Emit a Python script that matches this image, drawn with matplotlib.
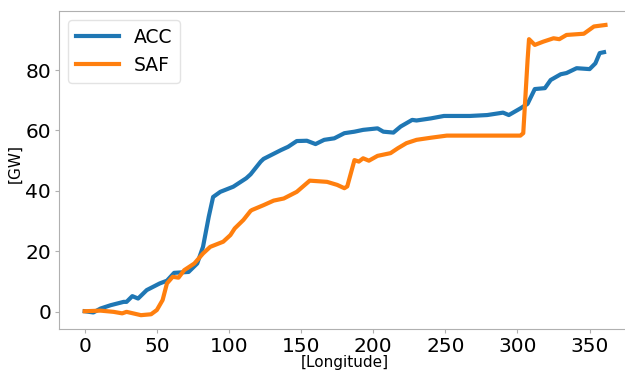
import matplotlib
matplotlib.use("Agg")
import matplotlib.pyplot as plt

# ACC series (longitude, GW)
acc_x = [0, 6, 11, 18, 27, 29, 33, 37, 43, 52, 57, 62, 72, 78, 82, 86, 89, 94,
         103, 112, 115, 122, 124, 136, 141, 147, 154, 160, 166, 173, 180, 187,
         193, 203, 207, 214, 219, 227, 230, 240, 249, 267, 279, 290, 294, 302,
         307, 312, 319, 323, 330, 334, 341, 350, 354, 357, 360]
acc_y = [0.2, -0.2, 1.1, 2.2, 3.3, 3.3, 5.2, 4.4, 7.2, 9.4, 10.3, 12.9, 13.2, 16.0,
         21.5, 31.5, 38.0, 39.7, 41.4, 44.2, 45.5, 49.7, 50.6, 53.5, 54.6, 56.5,
         56.6, 55.5, 56.9, 57.4, 59.1, 59.6, 60.2, 60.7, 59.6, 59.3, 61.3, 63.5,
         63.3, 64.0, 64.8, 64.8, 65.1, 65.9, 65.1, 67.3, 68.8, 73.7, 74.0, 76.7,
         78.6, 79.0, 80.6, 80.3, 82.2, 85.6, 85.9]

# SAF series (longitude, GW)
saf_x = [0, 11, 20, 26, 29, 39, 46, 50, 54, 57, 61, 65, 69, 76, 82, 87, 96, 101,
         104, 110, 115, 116, 124, 131, 138, 147, 156, 168, 175, 180, 182, 187,
         190, 193, 197, 203, 212, 217, 223, 230, 240, 251, 302, 304, 307, 308,
         312, 318, 325, 329, 334, 346, 353, 361]
saf_y = [0.2, 0.4, 0.0, -0.5, 0.0, -1.1, -0.8, 0.6, 3.9, 9.4, 11.6, 11.3, 13.8,
         16.0, 19.3, 21.5, 23.2, 25.4, 27.6, 30.4, 33.4, 33.7, 35.3, 36.8, 37.5,
         39.7, 43.4, 43.0, 42.0, 40.9, 41.5, 50.2, 49.7, 50.8, 50.0, 51.6, 52.5,
         54.1, 55.8, 56.9, 57.6, 58.3, 58.3, 59.1, 83.3, 90.2, 88.3, 89.4, 90.5,
         90.2, 91.6, 92.0, 94.4, 94.9]

fig = plt.figure(figsize=(6.25, 3.71), dpi=100)
ax = fig.add_axes([0.094, 0.113, 0.914, 0.858])

ax.plot(acc_x, acc_y, color="#1f77b4", lw=3, label="ACC")
ax.plot(saf_x, saf_y, color="#ff7f0e", lw=3, label="SAF")

ax.set_xlim(-18, 378)
ax.set_ylim(-5.7, 99.6)
ax.set_xticks([0, 50, 100, 150, 200, 250, 300, 350])
ax.set_yticks([0, 20, 40, 60, 80])
ax.tick_params(labelsize=14.5, color="#b0b0b0", length=3, pad=2.5)
for s in ax.spines.values():
    s.set_color("#b0b0b0")

ax.set_xlabel("[Longitude]", fontsize=11)
ax.xaxis.set_label_coords(0.5, -0.082)
ax.set_ylabel("[GW]", fontsize=11)
ax.yaxis.set_label_coords(-0.064, 0.52)

ax.legend(loc="upper left", fontsize=13.5, handlelength=2.3, fancybox=True,
          framealpha=0.8, edgecolor="#dddddd")

fig.savefig("out.png", dpi=100)
